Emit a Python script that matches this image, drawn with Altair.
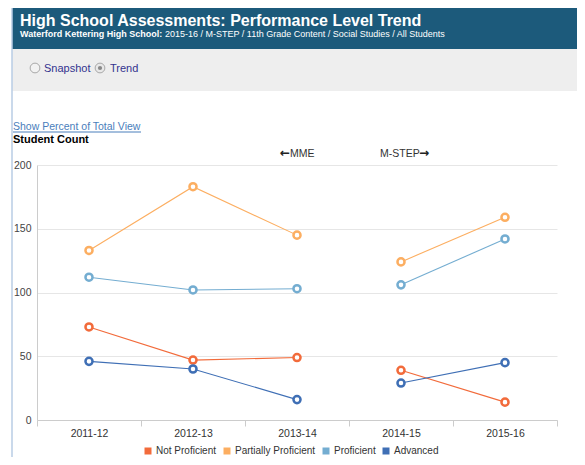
import altair as alt
import pandas as pd

years = ["2011-12", "2012-13", "2013-14", "2014-15", "2015-16"]
eras = ["MME", "MME", "MME", "M-STEP", "M-STEP"]
levels = ["Not Proficient", "Partially Proficient", "Proficient", "Advanced"]
not_proficient = [73, 47, 49, 39, 14]
partially_proficient = [133, 183, 145, 124, 159]
proficient = [112, 102, 103, 106, 142]
advanced = [46, 40, 16, 29, 45]
colors = ["#f26b3b", "#fcae61", "#74add1", "#3f6fb5"]

series = [not_proficient, partially_proficient, proficient, advanced]
rows = []
for lvl, vals in zip(levels, series):
    for yr, era, v in zip(years, eras, vals):
        rows.append({"year": yr, "era": era, "level": lvl, "count": v})
df = pd.DataFrame(rows)

FONT = "Liberation Sans"
one = pd.DataFrame({"k": [0]})

def txt(s, x, y, size, color, weight="normal", align="left", font=FONT):
    return alt.Chart(one).mark_text(
        text=s, align=align, baseline="alphabetic", fontSize=size,
        color=color, fontWeight=weight, font=font
    ).encode(x=alt.value(x), y=alt.value(y))

def rect(x, x2, y, y2, color):
    return alt.Chart(one).mark_rect(color=color).encode(
        x=alt.value(x), x2=alt.value(x2), y=alt.value(y), y2=alt.value(y2))

def rule(x, x2, y, y2, color, w=1):
    return alt.Chart(one).mark_rule(color=color, strokeWidth=w).encode(
        x=alt.value(x), x2=alt.value(x2), y=alt.value(y), y2=alt.value(y2))

def radio(x, y, fill, dot=False):
    layers = [alt.Chart(one).mark_point(shape="circle", filled=True, fill=fill,
                                        stroke="#a8a8a8", strokeWidth=1, size=95, opacity=1).encode(
        x=alt.value(x), y=alt.value(y))]
    if dot:
        layers.append(alt.Chart(one).mark_point(shape="circle", filled=True, fill="#888888",
                                                strokeWidth=0, size=18, opacity=1).encode(
            x=alt.value(x), y=alt.value(y)))
    return layers

decor = [
    rect(-25, 548, -157, -116, "#1c5a7b"),
    rect(-25, 548, -116, -74, "#eeeeee"),
    rule(-25, -25, -158, 300, "#b9cde5", 1.5),
    txt("High School Assessments: Performance Level Trend", -17, -139, 16, "white", "bold"),
    txt("Waterford Kettering High School:", -17, -128, 9, "white", "bold"),
    txt("2015-16 / M-STEP / 11th Grade Content / Social Studies / All Students", 128, -128, 9, "white"),
    *radio(-2, -97, "#f2f2f2"),
    txt("Snapshot", 7, -93, 11, "#33338f"),
    *radio(63, -97, "#e8e8e8", dot=True),
    txt("Trend", 73, -93, 11, "#33338f"),
    txt("Show Percent of Total View", -24, -35, 10.5, "#4a7ebb"),
    rule(-24, 104, -33, -33, "#4a7ebb", 1),
    txt("Student Count", -24, -22, 11, "black", "bold"),
    txt("\u2190", 243, -8, 12, "#222222", "bold", font="DejaVu Sans"),
    txt("MME", 253, -8, 10.5, "#333333"),
    txt("M-STEP", 343, -8, 10.5, "#333333"),
    txt("\u2192", 382, -8, 12, "#222222", "bold", font="DejaVu Sans"),
]

x_enc = alt.X("year:N", sort=years,
              scale=alt.Scale(type="band", paddingInner=0, paddingOuter=0),
              axis=alt.Axis(title=None, labelAngle=0, tickBand="extent", tickColor="#cccccc",
                            domainColor="#cccccc", tickSize=6, labelPadding=2, labelFontSize=10.5,
                            labelColor="#333333", labelFont=FONT, grid=False))
y_enc = alt.Y("count:Q", scale=alt.Scale(domain=[0, 200]),
              axis=alt.Axis(values=[0, 50, 100, 150, 200], title=None, grid=True, gridColor="#e6e6e6",
                            domainColor="#cccccc", ticks=False, labelPadding=6, labelFontSize=10.5,
                            labelColor="#444444", labelFont=FONT))
stroke_scale = alt.Scale(domain=levels, range=colors)

base = alt.Chart(df)
legend_layer = base.mark_square(size=0, opacity=1).encode(
    x=x_enc, y=y_enc,
    color=alt.Color("level:N", sort=levels, scale=alt.Scale(domain=levels, range=colors),
                    legend=alt.Legend(title=None, orient="none", legendX=106, legendY=281,
                                      direction="horizontal", symbolType="square", symbolSize=49,
                                      symbolStrokeWidth=0, labelFontSize=10, labelColor="#333333",
                                      labelFont=FONT, columnPadding=5, labelOffset=3)))
lines = base.mark_line(strokeWidth=1.1).encode(
    x=x_enc, y=y_enc, stroke=alt.Stroke("level:N", scale=stroke_scale, legend=None), detail="era:N")
points = base.mark_point(shape="circle", filled=True, fill="white", strokeWidth=2.5, size=50, opacity=1).encode(
    x=x_enc, y=y_enc, stroke=alt.Stroke("level:N", scale=stroke_scale, legend=None))

chart = alt.layer(*decor, legend_layer, lines, points).properties(
    width=520, height=255,
    autosize=alt.AutoSizeParams(type="none"),
    padding={"left": 29, "top": 157, "right": 20, "bottom": 37},
    background="white",
).configure_view(stroke=None)

chart.save("out.html", embed_options={"renderer": "svg", "actions": False})
